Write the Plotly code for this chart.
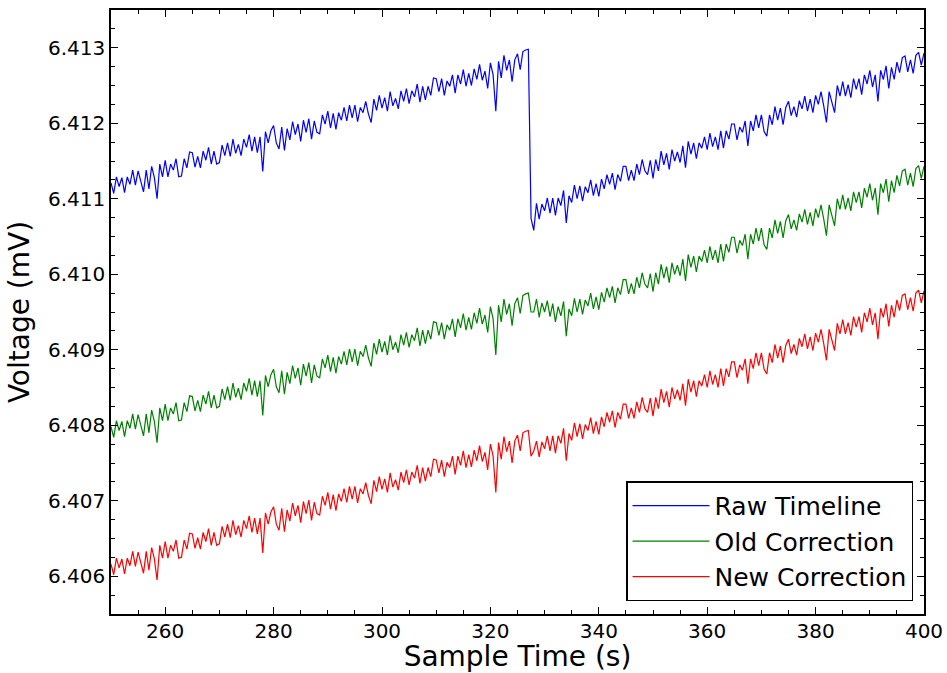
import plotly.graph_objects as go

# Sample values (mV), one every 0.5 s from 250 s to 400 s
RAW = [
6.41121, 6.41107, 6.41129, 6.41116, 6.41128, 6.41108, 6.41129, 6.41119, 6.41138, 6.41118,
6.41137, 6.41122, 6.41109, 6.41138, 6.41113, 6.41143, 6.41128, 6.41100, 6.41146, 6.41129,
6.41151, 6.41129, 6.41146, 6.41138, 6.41153, 6.41129, 6.41130, 6.41153, 6.41141, 6.41162,
6.41161, 6.41142, 6.41156, 6.41141, 6.41163, 6.41151, 6.41168, 6.41146, 6.41163, 6.41146,
6.41148, 6.41171, 6.41157, 6.41174, 6.41156, 6.41179, 6.41160, 6.41172, 6.41157, 6.41179,
6.41168, 6.41185, 6.41163, 6.41182, 6.41161, 6.41182, 6.41136, 6.41189, 6.41174, 6.41190,
6.41197, 6.41174, 6.41166, 6.41195, 6.41164, 6.41193, 6.41178, 6.41202, 6.41185, 6.41199,
6.41176, 6.41204, 6.41188, 6.41206, 6.41179, 6.41203, 6.41188, 6.41186, 6.41211, 6.41199,
6.41216, 6.41194, 6.41213, 6.41192, 6.41214, 6.41204, 6.41221, 6.41203, 6.41224, 6.41207,
6.41224, 6.41202, 6.41221, 6.41214, 6.41229, 6.41212, 6.41201, 6.41232, 6.41217, 6.41237,
6.41220, 6.41234, 6.41216, 6.41242, 6.41223, 6.41233, 6.41219, 6.41243, 6.41229, 6.41246,
6.41226, 6.41243, 6.41235, 6.41252, 6.41228, 6.41249, 6.41231, 6.41249, 6.41237, 6.41260,
6.41259, 6.41242, 6.41259, 6.41237, 6.41256, 6.41249, 6.41264, 6.41240, 6.41264, 6.41252,
6.41271, 6.41249, 6.41266, 6.41250, 6.41272, 6.41258, 6.41278, 6.41257, 6.41269, 6.41246,
6.41280, 6.41264, 6.41216, 6.41282, 6.41260, 6.41290, 6.41270, 6.41284, 6.41255, 6.41284,
6.41292, 6.41271, 6.41295, 6.41297, 6.41298, 6.41074, 6.41058, 6.41094, 6.41073, 6.41093,
6.41084, 6.41101, 6.41081, 6.41101, 6.41078, 6.41101, 6.41091, 6.41111, 6.41068, 6.41104,
6.41095, 6.41118, 6.41100, 6.41117, 6.41097, 6.41116, 6.41108, 6.41125, 6.41104, 6.41120,
6.41103, 6.41126, 6.41113, 6.41132, 6.41119, 6.41134, 6.41112, 6.41132, 6.41123, 6.41143,
6.41143, 6.41124, 6.41138, 6.41124, 6.41146, 6.41132, 6.41152, 6.41137, 6.41132, 6.41151,
6.41127, 6.41152, 6.41137, 6.41163, 6.41145, 6.41160, 6.41139, 6.41165, 6.41150, 6.41162,
6.41148, 6.41170, 6.41141, 6.41176, 6.41159, 6.41174, 6.41153, 6.41174, 6.41167, 6.41182,
6.41165, 6.41187, 6.41169, 6.41182, 6.41165, 6.41190, 6.41167, 6.41190, 6.41179, 6.41199,
6.41199, 6.41178, 6.41195, 6.41188, 6.41203, 6.41170, 6.41203, 6.41190, 6.41211, 6.41194,
6.41211, 6.41189, 6.41183, 6.41211, 6.41198, 6.41222, 6.41204, 6.41220, 6.41198, 6.41221,
6.41229, 6.41210, 6.41222, 6.41208, 6.41230, 6.41219, 6.41236, 6.41216, 6.41232, 6.41214,
6.41237, 6.41225, 6.41242, 6.41223, 6.41201, 6.41242, 6.41229, 6.41214, 6.41250, 6.41236,
6.41255, 6.41236, 6.41251, 6.41234, 6.41259, 6.41245, 6.41259, 6.41238, 6.41264, 6.41252,
6.41270, 6.41248, 6.41264, 6.41229, 6.41270, 6.41258, 6.41276, 6.41246, 6.41274, 6.41258,
6.41281, 6.41267, 6.41287, 6.41289, 6.41268, 6.41284, 6.41266, 6.41290, 6.41294, 6.41277,
6.41293,
]

OLD = [
6.40798, 6.40784, 6.40806, 6.40793, 6.40805, 6.40785, 6.40806, 6.40796, 6.40815, 6.40795,
6.40814, 6.40799, 6.40786, 6.40815, 6.40790, 6.40820, 6.40805, 6.40777, 6.40823, 6.40806,
6.40828, 6.40806, 6.40823, 6.40815, 6.40830, 6.40806, 6.40807, 6.40830, 6.40818, 6.40839,
6.40838, 6.40819, 6.40833, 6.40818, 6.40840, 6.40828, 6.40845, 6.40823, 6.40840, 6.40823,
6.40825, 6.40848, 6.40834, 6.40851, 6.40833, 6.40856, 6.40837, 6.40849, 6.40834, 6.40856,
6.40845, 6.40862, 6.40840, 6.40859, 6.40838, 6.40859, 6.40813, 6.40866, 6.40851, 6.40867,
6.40874, 6.40851, 6.40843, 6.40872, 6.40841, 6.40870, 6.40855, 6.40879, 6.40862, 6.40876,
6.40853, 6.40881, 6.40865, 6.40883, 6.40856, 6.40880, 6.40865, 6.40863, 6.40888, 6.40876,
6.40893, 6.40871, 6.40890, 6.40869, 6.40891, 6.40881, 6.40898, 6.40880, 6.40901, 6.40884,
6.40901, 6.40879, 6.40898, 6.40891, 6.40906, 6.40889, 6.40878, 6.40909, 6.40894, 6.40914,
6.40897, 6.40911, 6.40893, 6.40919, 6.40900, 6.40910, 6.40896, 6.40920, 6.40906, 6.40923,
6.40903, 6.40920, 6.40912, 6.40929, 6.40905, 6.40926, 6.40908, 6.40926, 6.40914, 6.40937,
6.40936, 6.40919, 6.40936, 6.40914, 6.40933, 6.40926, 6.40941, 6.40917, 6.40941, 6.40929,
6.40948, 6.40926, 6.40943, 6.40927, 6.40949, 6.40935, 6.40955, 6.40934, 6.40946, 6.40923,
6.40957, 6.40941, 6.40893, 6.40959, 6.40937, 6.40967, 6.40947, 6.40961, 6.40932, 6.40961,
6.40969, 6.40948, 6.40972, 6.40974, 6.40975, 6.40950, 6.40950, 6.40967, 6.40943, 6.40962,
6.40950, 6.40965, 6.40944, 6.40961, 6.40937, 6.40957, 6.40945, 6.40964, 6.40918, 6.40954,
6.40945, 6.40968, 6.40950, 6.40967, 6.40947, 6.40966, 6.40958, 6.40975, 6.40954, 6.40970,
6.40953, 6.40976, 6.40963, 6.40982, 6.40969, 6.40984, 6.40962, 6.40982, 6.40973, 6.40993,
6.40993, 6.40974, 6.40988, 6.40974, 6.40996, 6.40982, 6.41002, 6.40987, 6.40982, 6.41001,
6.40977, 6.41002, 6.40987, 6.41013, 6.40995, 6.41010, 6.40989, 6.41015, 6.41000, 6.41012,
6.40998, 6.41020, 6.40991, 6.41026, 6.41009, 6.41024, 6.41003, 6.41024, 6.41017, 6.41032,
6.41015, 6.41037, 6.41019, 6.41032, 6.41015, 6.41040, 6.41017, 6.41040, 6.41029, 6.41049,
6.41049, 6.41028, 6.41045, 6.41038, 6.41053, 6.41020, 6.41053, 6.41040, 6.41061, 6.41044,
6.41061, 6.41039, 6.41033, 6.41061, 6.41048, 6.41072, 6.41054, 6.41070, 6.41048, 6.41071,
6.41079, 6.41060, 6.41072, 6.41058, 6.41080, 6.41069, 6.41086, 6.41066, 6.41082, 6.41064,
6.41087, 6.41075, 6.41092, 6.41073, 6.41051, 6.41092, 6.41079, 6.41064, 6.41100, 6.41086,
6.41105, 6.41086, 6.41101, 6.41084, 6.41109, 6.41095, 6.41109, 6.41088, 6.41114, 6.41102,
6.41120, 6.41098, 6.41114, 6.41079, 6.41120, 6.41108, 6.41126, 6.41096, 6.41124, 6.41108,
6.41131, 6.41117, 6.41137, 6.41139, 6.41118, 6.41134, 6.41116, 6.41140, 6.41144, 6.41127,
6.41143,
]

NEW = [
6.40616, 6.40602, 6.40624, 6.40611, 6.40623, 6.40603, 6.40624, 6.40614, 6.40633, 6.40613,
6.40632, 6.40617, 6.40604, 6.40633, 6.40608, 6.40638, 6.40623, 6.40595, 6.40641, 6.40624,
6.40646, 6.40624, 6.40641, 6.40633, 6.40648, 6.40624, 6.40625, 6.40648, 6.40636, 6.40657,
6.40656, 6.40637, 6.40651, 6.40636, 6.40658, 6.40646, 6.40663, 6.40641, 6.40658, 6.40641,
6.40643, 6.40666, 6.40652, 6.40669, 6.40651, 6.40674, 6.40655, 6.40667, 6.40652, 6.40674,
6.40663, 6.40680, 6.40658, 6.40677, 6.40656, 6.40677, 6.40631, 6.40684, 6.40669, 6.40685,
6.40692, 6.40669, 6.40661, 6.40690, 6.40659, 6.40688, 6.40673, 6.40697, 6.40680, 6.40694,
6.40671, 6.40699, 6.40683, 6.40701, 6.40674, 6.40698, 6.40683, 6.40681, 6.40706, 6.40694,
6.40711, 6.40689, 6.40708, 6.40687, 6.40709, 6.40699, 6.40716, 6.40698, 6.40719, 6.40702,
6.40719, 6.40697, 6.40716, 6.40709, 6.40724, 6.40707, 6.40696, 6.40727, 6.40712, 6.40732,
6.40715, 6.40729, 6.40711, 6.40737, 6.40718, 6.40728, 6.40714, 6.40738, 6.40724, 6.40741,
6.40721, 6.40738, 6.40730, 6.40747, 6.40723, 6.40744, 6.40726, 6.40744, 6.40732, 6.40755,
6.40754, 6.40737, 6.40754, 6.40732, 6.40751, 6.40744, 6.40759, 6.40735, 6.40759, 6.40747,
6.40766, 6.40744, 6.40761, 6.40745, 6.40767, 6.40753, 6.40773, 6.40752, 6.40764, 6.40741,
6.40775, 6.40759, 6.40711, 6.40777, 6.40755, 6.40785, 6.40765, 6.40779, 6.40750, 6.40779,
6.40787, 6.40766, 6.40790, 6.40792, 6.40793, 6.40759, 6.40766, 6.40779, 6.40758, 6.40778,
6.40769, 6.40786, 6.40766, 6.40786, 6.40763, 6.40786, 6.40776, 6.40796, 6.40753, 6.40789,
6.40780, 6.40803, 6.40785, 6.40802, 6.40782, 6.40801, 6.40793, 6.40810, 6.40789, 6.40805,
6.40788, 6.40811, 6.40798, 6.40817, 6.40804, 6.40819, 6.40797, 6.40817, 6.40808, 6.40828,
6.40828, 6.40809, 6.40823, 6.40809, 6.40831, 6.40817, 6.40837, 6.40822, 6.40817, 6.40836,
6.40812, 6.40837, 6.40822, 6.40848, 6.40830, 6.40845, 6.40824, 6.40850, 6.40835, 6.40847,
6.40833, 6.40855, 6.40826, 6.40861, 6.40844, 6.40859, 6.40838, 6.40859, 6.40852, 6.40867,
6.40850, 6.40872, 6.40854, 6.40867, 6.40850, 6.40875, 6.40852, 6.40875, 6.40864, 6.40884,
6.40884, 6.40863, 6.40880, 6.40873, 6.40888, 6.40855, 6.40888, 6.40875, 6.40896, 6.40879,
6.40896, 6.40874, 6.40868, 6.40896, 6.40883, 6.40907, 6.40889, 6.40905, 6.40883, 6.40906,
6.40914, 6.40895, 6.40907, 6.40893, 6.40915, 6.40904, 6.40921, 6.40901, 6.40917, 6.40899,
6.40922, 6.40910, 6.40927, 6.40908, 6.40886, 6.40927, 6.40914, 6.40899, 6.40935, 6.40921,
6.40940, 6.40921, 6.40936, 6.40919, 6.40944, 6.40930, 6.40944, 6.40923, 6.40949, 6.40937,
6.40955, 6.40933, 6.40949, 6.40914, 6.40955, 6.40943, 6.40961, 6.40931, 6.40959, 6.40943,
6.40966, 6.40952, 6.40972, 6.40974, 6.40953, 6.40969, 6.40951, 6.40975, 6.40979, 6.40962,
6.40978,
]

T_START = 250.0
T_STEP = 0.5
SERIES_NAMES = ["Raw Timeline", "Old Correction", "New Correction"]
SERIES_COLORS = ["#0000ff", "#008000", "#ff0000"]
X_TICKS = [260, 280, 300, 320, 340, 360, 380, 400]
Y_TICKS = [6.406, 6.407, 6.408, 6.409, 6.410, 6.411, 6.412, 6.413]

FONT = "DejaVu Sans, Bitstream Vera Sans, Arial, sans-serif"

fig = go.Figure()
for name, color, vals in zip(SERIES_NAMES, SERIES_COLORS, [RAW, OLD, NEW]):
    times = [T_START + T_STEP * i for i in range(len(vals))]
    fig.add_trace(go.Scatter(
        x=times, y=vals, mode="lines", name=name,
        line=dict(color=color, width=1.2),
    ))

axis_common = dict(
    showgrid=False, zeroline=False,
    showline=True, linecolor="black", linewidth=1.5,
    mirror="allticks", ticks="inside", ticklen=7, tickwidth=1, tickcolor="black",
    tickfont=dict(family=FONT, size=20, color="black"),
)

fig.update_xaxes(
    range=[250, 400], tickvals=X_TICKS, ticklabelstandoff=-2,
    minor=dict(ticks="inside", dtick=5, tick0=250, ticklen=4, tickcolor="black", tickwidth=1),
    title=dict(text="Sample Time (s)", font=dict(family=FONT, size=28, color="black"), standoff=9),
    **axis_common,
)
fig.update_yaxes(
    range=[6.4055, 6.4135], tickvals=Y_TICKS, tickformat=".3f",
    minor=dict(ticks="inside", dtick=0.00025, tick0=6.405, ticklen=4, tickcolor="black", tickwidth=1),
    title=dict(text="Voltage (mV)", font=dict(family=FONT, size=28, color="black"), standoff=10),
    **axis_common,
)

fig.update_layout(
    width=947, height=673,
    margin=dict(l=111, r=23, t=10, b=59, autoexpand=False),
    paper_bgcolor="white", plot_bgcolor="white",
    font=dict(family=FONT, color="black"),
    showlegend=True,
    legend=dict(
        x=0.9865, y=0.021, xanchor="right", yanchor="bottom",
        bgcolor="white", bordercolor="black", borderwidth=1.5,
        font=dict(family=FONT, size=25, color="black"),
        itemwidth=77, tracegroupgap=0,
    ),
)

fig.write_html(
    "out.html",
    config={"displayModeBar": False},
    post_script="document.body.style.margin='0';document.body.style.padding='0';",
)
